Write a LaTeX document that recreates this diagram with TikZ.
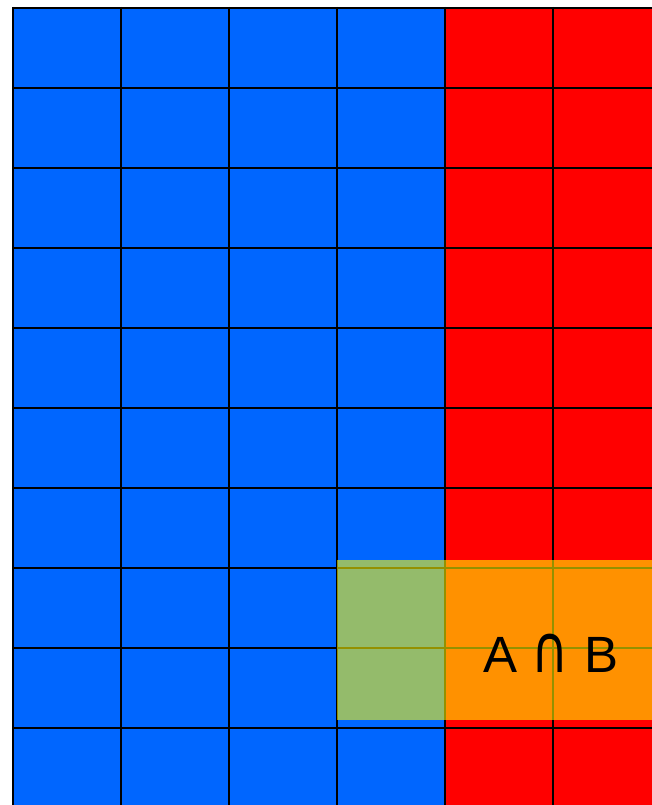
\documentclass[tikz,border=0pt]{standalone}
\usepackage{fontspec}
\setmainfont{Liberation Sans}
\newfontfamily\symfont{DejaVu Sans}
\definecolor{setA}{RGB}{0,102,255}
\definecolor{setB}{RGB}{255,0,0}
\definecolor{overlay}{RGB}{255,250,0}
\tikzset{
  gridline/.style={black, line width=2pt},
  cellA/.style={fill=setA},
  cellB/.style={fill=setB},
  interbox/.style={fill=overlay, fill opacity=0.58},
  interlabel/.style={font=\fontsize{51}{51}\selectfont, text=black, inner sep=0pt}
}
\begin{document}
\begin{tikzpicture}[x=1pt,y=-1pt]
\useasboundingbox (0,0) rectangle (652,805);
\clip (0,0) rectangle (652,805);
% regions
\fill[cellA] (13,8) rectangle (445,810);
\fill[cellB] (445,8) rectangle (662,810);
% grid
\foreach \k in {0,...,6} {
  \draw[gridline] ({13+108*\k},7) -- ({13+108*\k},810);
}
\foreach \k in {0,...,10} {
  \draw[gridline] (12,{8+80*\k}) -- (662,{8+80*\k});
}
% intersection overlay
\fill[interbox] (337,560) rectangle (662,720);
\node[interlabel] (lbl) at (551,653) {A\hspace{0.28em}\scalebox{1.0}[1.3]{\symfont\char"2229}\hspace{0.32em}B};
\end{tikzpicture}
\end{document}
